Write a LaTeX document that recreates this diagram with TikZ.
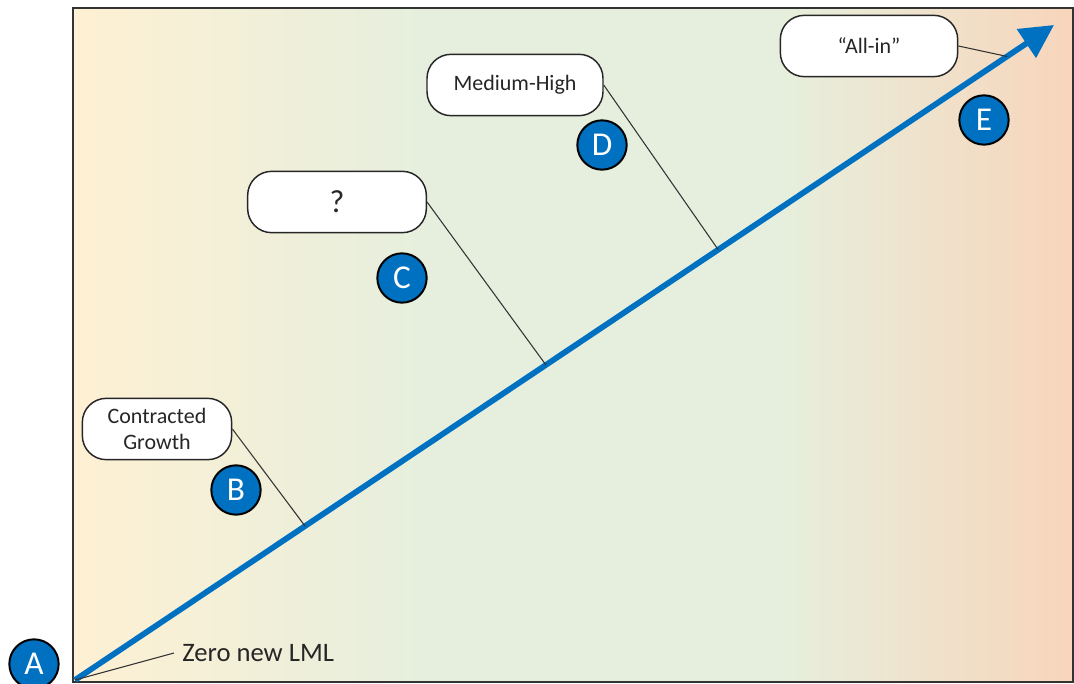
\documentclass[tikz,border=0pt]{standalone}
\usepackage{fontspec}
\setmainfont{Carlito}
\usetikzlibrary{arrows.meta,calc}

\definecolor{bgcream}{HTML}{FEF0D3}
\definecolor{bggreen}{HTML}{E6EFDD}
\definecolor{bgpeach}{HTML}{F8D5BB}
\definecolor{markblue}{HTML}{0070C0}

\begin{document}
\begin{tikzpicture}[x=0.75pt,y=0.75pt,yscale=-1,xscale=1,
    callout/.style={draw=black!85,line width=1.1pt,fill=white,rounded corners=18pt,minimum height=46pt,align=center,text=black!85,font=\fontsize{16.5}{19}\selectfont},
    marker/.style={circle,draw=black,line width=1.5pt,fill=markblue,text=white,minimum size=37pt,inner sep=0pt,font=\fontsize{25}{25}\selectfont},
    leader/.style={draw=black!80,line width=0.8pt}]
\useasboundingbox (0,0) rectangle (1074,684);

%Background
    \shade[left color=bgcream,right color=bggreen] (73,8) rectangle (420,682);
    \fill[bggreen] (420,8) rectangle (780,682);
    \shade[left color=bggreen,right color=bgpeach] (780,8) rectangle (1073,682);
    \draw[line width=1.3pt,draw=black!80] (73,8) rectangle (1073,682);

%Growth arrow
    \coordinate (origin) at (75,680);
    \coordinate (tip) at (1054,25);
    \draw[line width=4.3pt,markblue,-{Triangle[length=25pt,width=25pt]}] (origin) -- (tip);

% Callouts
    \node[anchor=west,inner sep=6pt,text=black!85,font=\fontsize{20}{22}\selectfont] (zero) at (174,653) {Zero new LML};
    \node[callout,minimum width=112pt] (contracted) at (157,429) {Contracted\\Growth};
    \node[callout,minimum width=134pt,font=\fontsize{24}{24}\selectfont] (unknown) at (337,202) {?};
    \node[callout,minimum width=132pt] (medhigh) at (515,85) {Medium-High};
    \node[callout,minimum width=133pt] (allin) at (869,46) {“All-in”};

% Leader lines
    \draw[leader] (origin) -- (zero.west);
    \draw[leader] (contracted.east) -- ($(origin)!0.235!(tip)$);
    \draw[leader] (unknown.east) -- ($(origin)!0.481!(tip)$);
    \draw[leader] (medhigh.east) -- ($(origin)!0.657!(tip)$);
    \draw[leader] (allin.east) -- ($(origin)!0.952!(tip)$);

% Markers
    \node[marker] (markA) at (34,664) {A};
    \node[marker] (markB) at (236,490) {B};
    \node[marker] (markC) at (402,278) {C};
    \node[marker] (markD) at (602,145) {D};
    \node[marker] (markE) at (984,120) {E};

\end{tikzpicture}
\end{document}
